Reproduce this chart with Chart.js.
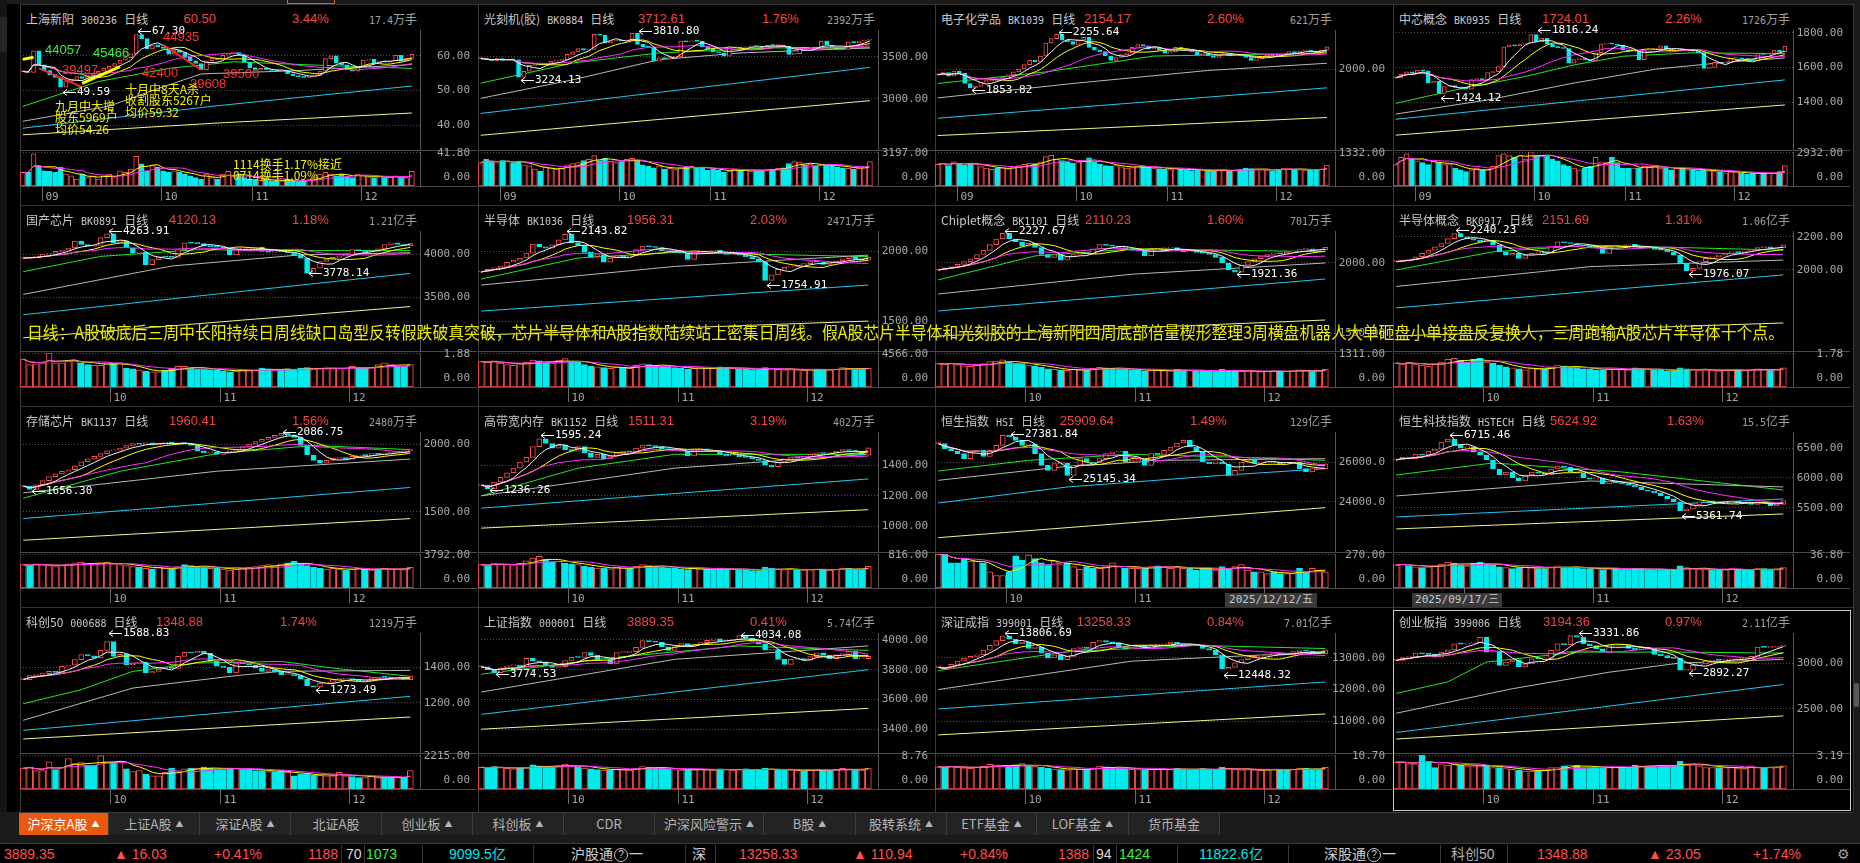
<!DOCTYPE html>
<html lang="zh-CN">
<head>
<meta charset="utf-8">
<title>多股同列 日线</title>
<script src="https://cdn.jsdelivr.net/npm/chart.js@4.4.1/dist/chart.umd.min.js"></script>
<style>
  html, body { margin: 0; padding: 0; background: #000; }
  body { width: 1860px; height: 863px; overflow: hidden; position: relative; font-family: "Noto Sans CJK SC", sans-serif; }
  .a { position: absolute; }
  .hl { position: absolute; height: 1px; background: #444; }
  .vl { position: absolute; width: 1px; background: #3a3a3a; }
  .head { position: absolute; height: 16px; line-height: 16px; font-size: 12px; color: #c8c8c8; white-space: nowrap; }
  .mono { font-family: "DejaVu Sans Mono", monospace; font-size: 10px; }
  .code { margin: 0 7px; }
  .num { position: absolute; height: 16px; line-height: 16px; font-family: "Liberation Sans", sans-serif; font-size: 13px; color: #f04646; white-space: nowrap; }
  .turn { position: absolute; height: 16px; line-height: 16px; font-size: 12px; color: #a0a0a0; white-space: nowrap; }
  .note { position: absolute; white-space: nowrap; line-height: 12px; height: 12px; }
  .tab { position: absolute; top: 813px; height: 22px; line-height: 22px; text-align: center; font-size: 13px; color: #b4b4b4; background: #232323; border-right: 1px solid #3c3c3c; box-sizing: border-box; white-space: nowrap; }
  .tab small { font-size: 8px; margin-left: 4px; vertical-align: 2px; }
  .st { position: absolute; top: 845px; height: 18px; line-height: 18px; font-family: "Liberation Sans", sans-serif; font-size: 14px; white-space: nowrap; }
  .q { display: inline-block; width: 12px; height: 12px; line-height: 12px; border: 1px solid #c8c8c8; border-radius: 7px; font-size: 10px; text-align: center; margin: 0 1px; vertical-align: 1px; }
  .datebox { position: absolute; top: 593px; height: 14px; line-height: 14px; background: #3a3a3a; color: #c8c8c8; font-family: "DejaVu Sans Mono", monospace; font-size: 11px; text-align: center; }
  #overlay { position: absolute; left: 27px; top: 321px; height: 22px; line-height: 22px; font-size: 17px; color: #ecec00; white-space: nowrap; transform-origin: 0 50%; text-shadow: 0 0 1px #000; }
</style>
</head>
<body>
<div id="overlay">日线：A股破底后三周中长阳持续日周线缺口岛型反转假跌破真突破，芯片半导体和A股指数陆续站上密集日周线。假A股芯片半导体和光刻胶的上海新阳四周底部倍量楔形整理3周横盘机器人大单砸盘小单接盘反复换人，三周跑输A股芯片半导体十个点。</div>
<script>
// ---------- header values ----------
const headerNames = ['上海新阳', '光刻机(胶)', '电子化学品', '中芯概念', '国产芯片', '半导体', 'Chiplet概念', '半导体概念',
  '存储芯片', '高带宽内存', '恒生指数', '恒生科技指数', '科创50', '上证指数', '深证成指', '创业板指'];
const headerCodes = ['300236', 'BK0884', 'BK1039', 'BK0935', 'BK0891', 'BK1036', 'BK1101', 'BK0917',
  'BK1137', 'BK1152', 'HSI', 'HSTECH', '000688', '000001', '399001', '399006'];
const headerLast = ['60.50', '3712.61', '2154.17', '1724.01', '4120.13', '1956.31', '2110.23', '2151.69',
  '1960.41', '1511.31', '25909.64', '5624.92', '1348.88', '3889.35', '13258.33', '3194.36'];
const headerPct = ['3.44%', '1.76%', '2.60%', '2.26%', '1.18%', '2.03%', '1.60%', '1.31%',
  '1.56%', '3.19%', '1.49%', '1.63%', '1.74%', '0.41%', '0.84%', '0.97%'];
const headerTurnover = ['17.4万手', '2392万手', '621万手', '1726万手', '1.21亿手', '2471万手', '701万手', '1.06亿手',
  '2480万手', '402万手', '129亿手', '15.5亿手', '1219万手', '5.74亿手', '7.01亿手', '2.11亿手'];

// ---------- month ticks (index of first trading day) ----------
const monthStartsRow1 = [4, 26, 43, 63];
const monthNamesRow1 = ['09', '10', '11', '12'];
const monthStartsA = [14, 31, 51];
const monthStartsHK = [11, 31, 51];
const monthNames = ['10', '11', '12'];

// ---------- 上海新阳 ----------
const shxyClose = [55.5, 55.2, 61.5, 57.4, 55.8, 54.6, 53.8, 51.0, 52.6, 53.2,
  54.0, 53.5, 54.3, 55.0, 55.6, 56.4, 57.0, 57.8, 58.8, 59.5,
  60.6, 66.2, 65.0, 62.0, 63.2, 62.6, 62.2, 60.5, 61.8, 61.0,
  59.6, 58.6, 57.8, 56.0, 58.6, 59.4, 59.0, 60.2, 60.6, 61.0,
  60.4, 58.2, 56.6, 55.9, 56.4, 56.0, 55.8, 55.6, 55.9, 54.8,
  54.2, 54.0, 53.8, 54.2, 54.4, 55.6, 59.2, 60.0, 58.0, 57.4,
  56.0, 55.6, 56.6, 58.8, 59.0, 58.0, 58.4, 58.2, 58.6, 60.2,
  58.5, 59.3, 60.5];
const shxyVol = [16.7, 16.7, 39.7, 25.1, 18.8, 18, 16.7, 23, 14.6, 12.5,
  8.4, 14.6, 10.5, 12.5, 8.4, 12.5, 14.6, 10.5, 18.8, 16.7,
  20.9, 36.4, 27.2, 18.8, 25.1, 23, 18.8, 16.7, 18.8, 16.7,
  14.6, 12.5, 10.5, 8.4, 14.6, 10.5, 8.4, 14.6, 18, 12.5,
  14.6, 10.5, 8.4, 8.4, 7.1, 8.4, 6.3, 6.3, 6.3, 6.3,
  7.1, 5.4, 6.3, 8.4, 11.3, 14.6, 16.7, 14.6, 12.5, 14.6,
  11.3, 10.5, 14.6, 12.5, 11.3, 10.5, 11.3, 10.5, 11.3, 12.5,
  10.5, 10.5, 18];
const shxyGreen = [[0, 45.4], [14, 52.6], [27, 56.4], [39, 58.3], [55, 57.3], [72, 56.4]];
const shxyGray = [[0, 41.1], [16, 45.5], [24, 50.0], [33, 54.8], [50, 55.7], [72, 57.5]];
const shxyCyan = [[0, 39.1], [36, 45.6], [72, 51.3]];
const shxyPale = [[0, 37.2], [36, 40.6], [72, 43.5]];
const shxyMarks = [[21, 67.30], [7, 49.59]];
const shxyRedA = [[3, 56.4], [11, 51.0]];
const shxyRedB = [[26, 63.2], [33, 56.0]];
const shxyYellowA = [[0, 59.0], [2, 59.6]];
const shxyYellowB = [[11, 52.1], [18, 56.9]];

// ---------- 光刻机(胶) ----------
const gkjClose = [3480, 3470, 3455, 3480, 3460, 3470, 3465, 3260, 3330, 3400,
  3410, 3405, 3420, 3450, 3460, 3465, 3530, 3560, 3600, 3580,
  3590, 3770, 3760, 3670, 3690, 3700, 3690, 3695, 3780, 3650,
  3620, 3615, 3450, 3490, 3480, 3495, 3500, 3690, 3680, 3690,
  3685, 3620, 3600, 3560, 3550, 3510, 3610, 3615, 3605, 3620,
  3630, 3625, 3615, 3640, 3635, 3640, 3630, 3530, 3540, 3610,
  3605, 3615, 3600, 3690, 3640, 3620, 3600, 3590, 3680, 3670,
  3690, 3700, 3712.61];
const gkjVol = [2200, 2500, 2300, 2200, 2400, 2300, 2200, 2350, 2000, 1900,
  1600, 1400, 1800, 1700, 1600, 1650, 2000, 2100, 2200, 2400,
  2500, 2850, 2400, 2600, 2300, 2200, 2300, 2500, 2600, 2400,
  2000, 1850, 1700, 1900, 1600, 1650, 1600, 1700, 1800, 1850,
  1750, 1700, 1500, 1600, 1500, 1300, 1400, 1600, 1500, 1550,
  1400, 1450, 1500, 1550, 1600, 1650, 1700, 2100, 2300, 2250,
  2000, 2050, 1900, 1950, 2000, 1950, 1800, 1700, 1650, 1600,
  1700, 1800, 2300];
const gkjGreen = [[0, 3188], [17, 3428], [33, 3548], [54, 3608], [72, 3608]];
const gkjGray = [[0, 3008], [17, 3228], [33, 3468], [48, 3548], [72, 3608]];
const gkjCyan = [[0, 2828], [72, 3376]];
const gkjPale = [[0, 2568], [72, 2980]];
const gkjMarks = [[29, 3810.80], [7, 3224.13]];

// ---------- 电子化学品 ----------
const dzhxClose = [1960, 1975, 1950, 1985, 1970, 1900, 1870, 1880, 1910, 1920,
  1930, 1925, 1945, 1960, 1980, 2000, 2030, 2060, 2050, 2090,
  2180, 2210, 2240, 2200, 2190, 2170, 2200, 2220, 2150, 2130,
  2120, 2090, 2060, 2080, 2100, 2110, 2150, 2170, 2160, 2140,
  2150, 2130, 2110, 2120, 2150, 2140, 2130, 2120, 2100, 2110,
  2090, 2080, 2100, 2110, 2095, 2100, 2090, 2080, 2060, 2070,
  2085, 2100, 2095, 2090, 2110, 2120, 2110, 2125, 2130, 2120,
  2115, 2130, 2154.17];
const dzhxVol = [850, 900, 800, 950, 880, 820, 900, 860, 760, 700,
  650, 700, 720, 680, 750, 800, 850, 900, 880, 950,
  1150, 1200, 1050, 1000, 950, 900, 950, 1000, 1100, 950,
  850, 800, 780, 800, 750, 700, 720, 760, 780, 740,
  700, 680, 650, 640, 700, 660, 620, 600, 640, 630,
  600, 580, 620, 640, 600, 620, 640, 700, 680, 660,
  640, 620, 600, 650, 700, 680, 660, 640, 620, 650,
  640, 660, 820];
const dzhxGreen = [[0, 1900], [20, 1980], [40, 2090], [72, 2110]];
const dzhxGray = [[0, 1800], [25, 1900], [50, 1990], [72, 2040]];
const dzhxCyan = [[0, 1660], [72, 1870]];
const dzhxPale = [[0, 1540], [72, 1665]];
const dzhxMarks = [[22, 2255.64], [6, 1853.82]];

// ---------- 中芯概念 ----------
const zxgnClose = [1540, 1560, 1575, 1567, 1585, 1580, 1510, 1520, 1450, 1490,
  1495, 1485, 1480, 1475, 1530, 1535, 1530, 1570, 1575, 1605,
  1720, 1730, 1725, 1735, 1740, 1790, 1750, 1770, 1735, 1720,
  1715, 1710, 1625, 1645, 1650, 1645, 1640, 1685, 1735, 1740,
  1735, 1730, 1700, 1690, 1695, 1645, 1700, 1705, 1710, 1725,
  1705, 1700, 1705, 1700, 1700, 1695, 1685, 1595, 1600, 1630,
  1625, 1630, 1655, 1655, 1650, 1645, 1640, 1680, 1675, 1680,
  1700, 1690, 1724.01];
const zxgnVol = [1854, 2472, 2781, 2318, 2163, 2009, 1854, 2163, 2009, 1854,
  1854, 1545, 1391, 1236, 1391, 1545, 1391, 1391, 1700, 2627,
  2781, 2627, 2472, 2627, 2318, 2936, 2627, 2627, 2688, 2318,
  2163, 1854, 1700, 1545, 1391, 1545, 1700, 2472, 2009, 2009,
  2472, 2009, 1545, 1545, 1545, 1545, 1700, 1700, 1700, 1545,
  1545, 1391, 1545, 1545, 1391, 1391, 1329, 1391, 1329, 1236,
  1236, 1143, 1236, 1236, 1082, 1020, 1082, 1082, 1143, 1082,
  1143, 1236, 1761];
const zxgnGreen = [[0, 1392], [11, 1470], [24, 1548], [33, 1615], [42, 1665], [55, 1685], [72, 1680]];
const zxgnGray = [[0, 1330], [17, 1412], [33, 1510], [48, 1590], [61, 1630], [72, 1655]];
const zxgnCyan = [[0, 1300], [72, 1528]];
const zxgnPale = [[0, 1208], [72, 1383]];
const zxgnMarks = [[26, 1816.24], [8, 1424.12]];

// ---------- 国产芯片 ----------
const gcxpClose = [3953, 3960, 3965, 4000, 4010, 4030, 4045, 4070, 4150, 4110,
  4090, 4100, 4190, 4235, 4130, 4150, 4070, 4010, 4020, 3875,
  3935, 3970, 3965, 3960, 4050, 4130, 4125, 4120, 4090, 4085,
  4080, 4070, 3990, 4060, 4062, 4065, 4080, 4030, 4020, 4035,
  4025, 4015, 3990, 3953, 3775, 3835, 3913, 3940, 3960, 3975,
  3990, 4050, 4040, 4025, 4030, 4060, 4110, 4130, 4110, 4095,
  4120.13];
const gcxpVol = [1.54, 1.24, 1.28, 1.34, 1.88, 1.34, 1.34, 1.44, 1.48, 1.34,
  1.24, 1.2, 1.2, 1.34, 1.34, 1.34, 1.04, 1.0, 0.94, 0.88,
  0.84, 0.84, 0.94, 1.04, 1.14, 1.14, 1.04, 1.0, 1.0, 0.94,
  0.94, 0.9, 0.84, 0.88, 0.94, 0.94, 0.94, 1.04, 1.0, 0.94,
  0.94, 1.0, 0.94, 1.04, 1.08, 1.0, 1.04, 1.04, 1.04, 1.04,
  1.04, 1.14, 1.04, 1.04, 1.08, 1.24, 1.34, 1.24, 1.14, 1.14,
  1.24];
const gcxpGreen = [[0, 3795], [12, 3972], [27, 4050], [43, 4040], [60, 4040]];
const gcxpGray = [[0, 3531], [17, 3775], [23, 3860], [43, 3990], [60, 4015]];
const gcxpCyan = [[0, 3295], [60, 3775]];
const gcxpPale = [[0, 3027], [60, 3390]];
const gcxpMarks = [[13, 4263.91], [44, 3778.14]];

// ---------- 半导体 ----------
const bdtClose = [1850, 1870, 1880, 1890, 1920, 1935, 1950, 1985, 2050, 2030,
  2020, 2045, 2080, 2120, 2060, 2040, 1990, 1960, 1975, 1920,
  1950, 1965, 1960, 1965, 2010, 2035, 2030, 2025, 2000, 1995,
  1990, 1985, 1940, 1990, 1995, 2000, 2005, 1985, 1975, 1980,
  1970, 1960, 1945, 1920, 1790, 1830, 1870, 1885, 1890, 1900,
  1910, 1925, 1920, 1905, 1915, 1930, 1945, 1960, 1940, 1935,
  1956.31];
const bdtVol = [3400, 3300, 3500, 3200, 3000, 2900, 3100, 3300, 3600, 3500,
  3300, 3200, 3600, 3800, 3400, 3300, 3000, 2800, 2700, 2600,
  2500, 2700, 2600, 2500, 2900, 3100, 3000, 2900, 2800, 2700,
  2600, 2500, 2400, 2500, 2600, 2550, 2500, 2700, 2600, 2500,
  2450, 2400, 2350, 2300, 2600, 2500, 2400, 2300, 2350, 2300,
  2250, 2300, 2400, 2350, 2300, 2400, 2600, 2550, 2450, 2400,
  2500];
const bdtGreen = [[0, 1800], [15, 1950], [30, 1990], [60, 1960]];
const bdtGray = [[0, 1757], [30, 1890], [60, 1971]];
const bdtCyan = [[0, 1571], [60, 1757]];
const bdtPale = [[0, 1400], [60, 1500]];
const bdtMarks = [[13, 2143.82], [44, 1754.91]];

// ---------- Chiplet概念 ----------
const chipletClose = [1950, 1965, 1975, 1990, 2010, 2030, 2060, 2090, 2130, 2170,
  2210, 2170, 2150, 2120, 2140, 2110, 2060, 2040, 2060, 2020,
  2045, 2060, 2070, 2065, 2100, 2130, 2125, 2120, 2110, 2100,
  2090, 2085, 2050, 2095, 2100, 2105, 2110, 2090, 2080, 2085,
  2075, 2070, 2060, 2040, 2000, 1950, 1935, 1985, 2010, 2030,
  2045, 2060, 2070, 2065, 2075, 2085, 2095, 2100, 2090, 2095,
  2110.23];
const chipletVol = [900, 880, 920, 860, 820, 800, 850, 900, 980, 1000,
  1050, 950, 900, 880, 850, 820, 760, 700, 680, 660,
  640, 680, 660, 650, 720, 760, 740, 720, 700, 680,
  660, 640, 620, 650, 640, 630, 620, 680, 660, 640,
  630, 620, 600, 590, 680, 640, 620, 600, 610, 600,
  590, 600, 620, 610, 600, 620, 660, 640, 620, 610,
  680];
const chipletGreen = [[0, 1880], [15, 2050], [30, 2100], [60, 2080]];
const chipletGray = [[0, 1780], [30, 1920], [60, 2000]];
const chipletCyan = [[0, 1659], [60, 1886]];
const chipletPale = [[0, 1482], [60, 1595]];
const chipletMarks = [[10, 2227.67], [46, 1921.36]];

// ---------- 半导体概念 ----------
const bdtgnClose = [2050, 2060, 2065, 2080, 2100, 2120, 2140, 2160, 2190, 2220,
  2200, 2190, 2180, 2170, 2180, 2150, 2110, 2090, 2100, 2070,
  2090, 2100, 2105, 2100, 2140, 2170, 2165, 2160, 2150, 2145,
  2140, 2135, 2100, 2140, 2145, 2150, 2155, 2140, 2130, 2135,
  2125, 2120, 2110, 2090, 2040, 1995, 2010, 2050, 2070, 2080,
  2090, 2100, 2110, 2105, 2115, 2125, 2135, 2140, 2130, 2135,
  2151.69];
const bdtgnVol = [1.25, 1.2, 1.3, 1.2, 1.15, 1.1, 1.2, 1.3, 1.45, 1.5,
  1.4, 1.3, 1.45, 1.5, 1.3, 1.25, 1.15, 1.05, 1.0, 0.95,
  0.9, 1.0, 0.95, 0.95, 1.05, 1.15, 1.1, 1.05, 1.0, 0.95,
  0.95, 0.9, 0.9, 0.95, 0.95, 0.92, 0.9, 1.0, 0.95, 0.92,
  0.9, 0.88, 0.85, 0.85, 1.0, 0.95, 0.9, 0.88, 0.9, 0.88,
  0.85, 0.88, 0.9, 0.88, 0.86, 0.9, 0.95, 0.93, 0.9, 0.9,
  1.0];
const bdtgnGreen = [[0, 2000], [15, 2110], [30, 2150], [60, 2120]];
const bdtgnGray = [[0, 1900], [30, 2020], [60, 2060]];
const bdtgnCyan = [[0, 1770], [60, 1970]];
const bdtgnPale = [[0, 1600], [60, 1679]];
const bdtgnMarks = [[9, 2240.23], [45, 1976.07]];

// ---------- 存储芯片 ----------
const ccxpClose = [1690, 1665, 1700, 1730, 1760, 1780, 1800, 1811,
  1840, 1870, 1891, 1910, 1930, 1950, 1956, 1970,
  1990, 2005, 2000, 2010, 1995, 2007, 2015, 2000, 2010, 2005, 1990,
  1950, 1935, 1940, 1925, 1935, 1950, 1960,
  1980, 2000, 2020, 2035, 2050, 2065, 2080, 2070,
  2050, 1990, 1920, 1880, 1860,
  1880, 1895, 1900, 1890, 1910, 1920, 1915, 1930, 1925, 1935, 1940, 1945, 1950, 1960.41];
const ccxpVol = [2600, 2500, 2700, 2600, 2500, 2400, 2500, 2700, 2800, 2900,
  2700, 2600, 2800, 2900, 2700, 2600, 2500, 2400, 2300, 2200,
  2100, 2300, 2200, 2100, 2400, 2600, 2500, 2400, 2300, 2200,
  2200, 2100, 2000, 2100, 2200, 2300, 2400, 2500, 2600, 2500,
  2700, 2800, 3000, 2700, 2500, 2300, 2200, 2100, 2200, 2100,
  2000, 2100, 2200, 2100, 2000, 2100, 2200, 2150, 2100, 2050,
  2300];
const ccxpGreen = [[0, 1600], [15, 1800], [30, 1930], [45, 1990], [60, 1960]];
const ccxpGray = [[0, 1640], [30, 1800], [60, 1890]];
const ccxpCyan = [[0, 1450], [60, 1680]];
const ccxpPale = [[0, 1290], [60, 1450]];
const ccxpMarks = [[40, 2086.75], [1, 1656.30]];

// ---------- 高带宽内存 ----------
const hbmClose = [1270, 1245, 1290, 1320, 1350, 1380, 1420, 1450, 1520, 1570,
  1540, 1510, 1530, 1500, 1490, 1520, 1480, 1450, 1470, 1440,
  1460, 1480, 1490, 1485, 1510, 1530, 1525, 1520, 1505, 1500,
  1495, 1490, 1460, 1500, 1505, 1495, 1490, 1470, 1460, 1465,
  1455, 1450, 1440, 1430, 1400, 1390, 1420, 1440, 1450, 1445,
  1455, 1470, 1480, 1475, 1480, 1490, 1500, 1495, 1485, 1465,
  1511.31];
const hbmVol = [560, 540, 600, 580, 560, 540, 600, 650, 720, 760,
  680, 620, 640, 600, 580, 560, 520, 500, 480, 470,
  460, 500, 480, 470, 520, 560, 540, 520, 500, 480,
  470, 460, 440, 470, 460, 450, 440, 480, 460, 450,
  440, 430, 420, 410, 500, 470, 450, 440, 450, 440,
  430, 440, 450, 440, 430, 450, 480, 470, 450, 440,
  520];
const hbmGreen = [[0, 1200], [15, 1380], [30, 1470], [60, 1470]];
const hbmGray = [[0, 1200], [30, 1380], [60, 1470]];
const hbmCyan = [[0, 1120], [60, 1310]];
const hbmPale = [[0, 990], [60, 1110]];
const hbmMarks = [[9, 1595.24], [1, 1236.26]];

// ---------- 恒生指数 ----------
const hsiClose = [26917, 26667, 26550, 26417, 26167, 26500, 26580, 26283, 26583, 26833,
  27333, 27250, 27083, 26833, 26900, 26417, 25833, 25583, 25917, 25950,
  25333, 25833, 26167, 26000, 25950, 26167, 26417, 26500, 26550, 26000,
  26083, 26117, 25833, 26417, 26380, 26583, 26750, 26950, 27083, 26750,
  26500, 26000, 25917, 26000, 25900, 25333, 25583, 26000, 26083, 25950,
  26000, 26033, 26000, 25917, 25917, 26000, 25667, 25500, 25667, 25667,
  25909.64];
const hsiVol = [270, 270, 199, 199, 233, 213, 213, 199, 128, 99,
  99, 128, 256, 222, 261, 233, 199, 185, 213, 185,
  199, 170, 148, 170, 156, 156, 170, 199, 170, 156,
  156, 156, 156, 170, 176, 170, 156, 170, 156, 156,
  142, 156, 156, 142, 170, 148, 170, 185, 142, 128,
  128, 114, 128, 114, 114, 114, 156, 128, 156, 142,
  128];
const hsiGreen = [[0, 25550], [14, 26083], [30, 26383], [45, 26250], [60, 26083]];
const hsiGray = [[0, 25083], [19, 25750], [35, 26083], [60, 26167]];
const hsiCyan = [[0, 23950], [20, 24750], [44, 25333], [60, 25667]];
const hsiPale = [[0, 22217], [60, 23717]];
const hsiMarks = [[11, 27381.84], [20, 25145.34]];

// ---------- 恒生科技指数 ----------
const hstechClose = [6300, 6350, 6320, 6400, 6380, 6450, 6480, 6600, 6650, 6550,
  6500, 6520, 6430, 6380, 6300, 6150, 6050, 6100, 6000, 5950,
  6050, 6100, 6080, 6060, 6150, 6200, 6180, 6100, 6080, 6000,
  5980, 6000, 5900, 5950, 5920, 5900, 5880, 5850, 5800, 5780,
  5750, 5700, 5650, 5600, 5450, 5480, 5550, 5600, 5620, 5590,
  5580, 5600, 5610, 5590, 5570, 5560, 5600, 5580, 5540, 5560,
  5624.92];
const hstechVol = [25, 26, 24, 23, 22, 23, 24, 26, 28, 27,
  25, 24, 27, 28, 26, 25, 23, 22, 21, 22,
  23, 22, 21, 21, 23, 24, 23, 22, 22, 21,
  21, 21, 20, 21, 21, 20, 20, 21, 21, 20,
  20, 20, 19, 19, 24, 22, 21, 20, 20, 20,
  19, 20, 21, 20, 19, 20, 21, 21, 20, 20,
  22];
const hstechGreen = [[0, 6050], [15, 6250], [35, 6100], [60, 5800]];
const hstechGray = [[0, 5700], [30, 5950], [60, 5850]];
const hstechCyan = [[0, 5350], [60, 5650]];
const hstechPale = [[0, 5150], [60, 5400]];
const hstechMarks = [[8, 6715.46], [44, 5361.74]];

// ---------- 科创50 ----------
const kc50Close = [1330, 1352, 1355, 1363, 1376, 1370, 1404, 1410, 1441, 1469,
  1462, 1450, 1492, 1542, 1459, 1470, 1413, 1422, 1428, 1367,
  1375, 1389, 1395, 1392, 1459, 1481, 1478, 1487, 1476, 1431,
  1404, 1398, 1367, 1422, 1418, 1412, 1394, 1376, 1385, 1372,
  1357, 1358, 1352, 1333, 1296, 1289, 1311, 1315, 1330, 1332,
  1336, 1330, 1320, 1322, 1335, 1344, 1342, 1338, 1344, 1330,
  1348.88];
const kc50Vol = [1356, 1424, 1198, 1198, 1763, 1266, 1424, 1989, 1650, 1718,
  1537, 1537, 2170, 1763, 1763, 1808, 1311, 1130, 1198, 972,
  859, 859, 1085, 1356, 1130, 1311, 1356, 1356, 1424, 1356,
  1311, 1266, 1356, 1356, 1266, 1266, 1198, 1198, 1130, 1130,
  1198, 1085, 859, 972, 972, 904, 904, 859, 859, 1085,
  859, 814, 746, 746, 859, 746, 746, 746, 746, 746,
  1198];
const kc50Green = [[0, 1196], [9, 1274], [17, 1376], [27, 1422], [40, 1431], [48, 1394], [60, 1348]];
const kc50Gray = [[0, 1104], [17, 1283], [33, 1352], [40, 1376], [60, 1381]];
const kc50Cyan = [[0, 1048], [60, 1237]];
const kc50Pale = [[0, 1000], [60, 1122]];
const kc50Marks = [[13, 1588.83], [45, 1273.49]];

// ---------- 上证指数 ----------
const szzsClose = [3820, 3800, 3780, 3812, 3826, 3831, 3821, 3876, 3860, 3853,
  3828, 3815, 3821, 3862, 3883, 3882, 3916, 3897, 3865, 3869,
  3839, 3916, 3917, 3922, 3950, 3996, 3988, 3986, 3954, 3930,
  3954, 3976, 3960, 3969, 3982, 3997, 4007, 3991, 3996, 4002,
  4029, 4011, 3990, 3972, 3931, 3935, 3870, 3836, 3870, 3875,
  3864, 3888, 3914, 3897, 3875, 3900, 3902, 3924, 3873, 3874,
  3889.35];
const szzsVol = [5.6, 5.4, 5.8, 5.5, 5.3, 5.2, 5.4, 5.6, 6.2, 6.0,
  5.8, 5.6, 6.0, 6.4, 6.0, 5.8, 5.4, 5.2, 5.0, 4.9,
  4.8, 5.1, 5.0, 4.9, 5.4, 5.8, 5.6, 5.5, 5.3, 5.1,
  5.0, 4.9, 4.8, 5.0, 5.1, 5.0, 4.9, 5.2, 5.0, 4.9,
  5.0, 5.2, 4.9, 4.8, 5.4, 5.2, 5.0, 4.8, 4.9, 4.8,
  4.7, 4.8, 5.0, 4.9, 4.8, 5.0, 5.3, 5.2, 5.0, 4.9,
  5.4];
const szzsGreen = [[0, 3770], [20, 3880], [40, 3960], [60, 3930]];
const szzsGray = [[0, 3650], [30, 3870], [60, 3960]];
const szzsCyan = [[0, 3500], [60, 3800]];
const szzsPale = [[0, 3400], [60, 3540]];
const szzsMarks = [[40, 4034.08], [2, 3774.53]];

// ---------- 深证成指 ----------
const szczClose = [12700, 12650, 12800, 12900, 13000, 13050, 13100, 13250, 13400, 13550,
  13700, 13600, 13450, 13500, 13300, 13350, 13150, 13000, 13100, 12950,
  13050, 13300, 13350, 13300, 13500, 13550, 13500, 13480, 13350, 13280,
  13350, 13400, 13300, 13400, 13420, 13450, 13500, 13450, 13420, 13400,
  13380, 13300, 13250, 13100, 12650, 12700, 12850, 12950, 13000, 13050,
  13080, 13100, 13150, 13120, 13100, 13200, 13250, 13220, 13150, 13130,
  13258.33];
const szczVol = [7.0, 6.8, 7.2, 6.9, 6.7, 6.5, 6.8, 7.1, 7.8, 7.6,
  7.3, 7.0, 7.6, 8.0, 7.5, 7.2, 6.8, 6.5, 6.3, 6.1,
  6.0, 6.4, 6.2, 6.1, 6.7, 7.2, 7.0, 6.8, 6.6, 6.4,
  6.2, 6.1, 6.0, 6.2, 6.3, 6.2, 6.1, 6.5, 6.3, 6.1,
  6.2, 6.4, 6.1, 6.0, 6.8, 6.5, 6.3, 6.0, 6.1, 6.0,
  5.9, 6.0, 6.2, 6.1, 6.0, 6.2, 6.6, 6.5, 6.2, 6.1,
  6.8];
const szczGreen = [[0, 12600], [20, 13200], [40, 13400], [60, 13300]];
const szczGray = [[0, 12000], [30, 12900], [60, 13190]];
const szczCyan = [[0, 11383], [60, 12240]];
const szczPale = [[0, 10560], [60, 11225]];
const szczMarks = [[10, 13806.69], [44, 12448.32]];

// ---------- 创业板指 ----------
const cybzClose = [3029, 3058, 3060, 3108, 3100, 3095, 3065, 3119, 3144, 3209,
  3205, 3216, 3222, 3281, 3119, 3130, 2975, 3011, 3036, 2957,
  2990, 3047, 3045, 3050, 3137, 3209, 3200, 3299, 3281, 3209,
  3190, 3155, 3120, 3190, 3200, 3195, 3160, 3145, 3170, 3150,
  3094, 3080, 3058, 3050, 2921, 2921, 2975, 2990, 3022, 3030,
  3028, 3035, 3045, 3045, 3048, 3072, 3173, 3170, 3172, 3180,
  3194.36];
const cybzVol = [2.52, 2.52, 2.35, 2.35, 3.19, 2.52, 2.02, 2.35, 2.25, 2.35,
  2.25, 2.18, 2.18, 2.18, 2.18, 2.02, 2.02, 1.92, 1.85, 1.78,
  1.68, 1.68, 1.68, 1.78, 2.02, 2.02, 2.18, 2.25, 2.25, 2.02,
  2.02, 2.02, 2.02, 2.02, 2.02, 2.02, 2.02, 2.25, 2.18, 2.18,
  2.18, 2.18, 2.18, 2.18, 2.59, 2.35, 2.35, 2.18, 2.02, 2.02,
  2.02, 2.02, 2.02, 1.92, 1.92, 2.18, 2.02, 2.02, 2.02, 2.02,
  2.18];
const cybzGreen = [[0, 2669], [8, 2795], [14, 3011], [28, 3119], [44, 3119], [60, 3108]];
const cybzGray = [[0, 2453], [18, 2720], [33, 2900], [44, 3000], [60, 3040]];
const cybzCyan = [[0, 2244], [60, 2766]];
const cybzPale = [[0, 2172], [60, 2424]];
const cybzMarks = [[28, 3331.86], [45, 2892.27]];

// ---------- panel table (built from the arrays above) ----------
const row1 = { slots: 74, bar: 4, volBar: 5, months: monthStartsRow1, monthText: monthNamesRow1 };
const rowA = { slots: 62, bar: 5, volBar: 6, months: monthStartsA, monthText: monthNames };
const rowHK = { slots: 62, bar: 5, volBar: 6, months: monthStartsHK, monthText: monthNames };

const panels = [
  { ...row1, close: shxyClose, vol: shxyVol, green: shxyGreen, gray: shxyGray, cyan: shxyCyan, pale: shxyPale, marks: shxyMarks,
    yMin: 32.8, yMax: 67.5, yTicks: [60, 50, 40], volMax: 41.80, priceEnd: 196, pctLeft: 272,
    extra: [[shxyRedA, '#ff2424', 2], [shxyRedB, '#ff2424', 2], [shxyYellowA, '#ffff00', 3], [shxyYellowB, '#ffff00', 3]] },
  { ...row1, close: gkjClose, vol: gkjVol, green: gkjGreen, gray: gkjGray, cyan: gkjCyan, pale: gkjPale, marks: gkjMarks,
    yMin: 2393, yMax: 3821, yTicks: [3500, 3000], volMax: 3197, priceEnd: 207, pctLeft: 284 },
  { ...row1, close: dzhxClose, vol: dzhxVol, green: dzhxGreen, gray: dzhxGray, cyan: dzhxCyan, pale: dzhxPale, marks: dzhxMarks,
    yMin: 1440, yMax: 2270, yTicks: [2000], volMax: 1332, priceEnd: 196, pctLeft: 272 },
  { ...row1, close: zxgnClose, vol: zxgnVol, green: zxgnGreen, gray: zxgnGray, cyan: zxgnCyan, pale: zxgnPale, marks: zxgnMarks,
    yMin: 1122, yMax: 1817, yTicks: [1800, 1600, 1400], volMax: 2932, priceEnd: 196, pctLeft: 272 },
  { ...rowA, close: gcxpClose, vol: gcxpVol, green: gcxpGreen, gray: gcxpGray, cyan: gcxpCyan, pale: gcxpPale, marks: gcxpMarks,
    yMin: 2874, yMax: 4267, yTicks: [4000, 3500], volMax: 1.88, priceEnd: 196, pctLeft: 272 },
  { ...rowA, close: bdtClose, vol: bdtVol, green: bdtGreen, gray: bdtGray, cyan: bdtCyan, pale: bdtPale, marks: bdtMarks,
    yMin: 1286, yMax: 2143, yTicks: [2000, 1500], volMax: 4566, priceEnd: 196, pctLeft: 272 },
  { ...rowA, close: chipletClose, vol: chipletVol, green: chipletGreen, gray: chipletGray, cyan: chipletCyan, pale: chipletPale, marks: chipletMarks,
    yMin: 1375, yMax: 2227, yTicks: [2000, 1500], volMax: 1311, priceEnd: 196, pctLeft: 272 },
  { ...rowA, close: bdtgnClose, vol: bdtgnVol, green: bdtgnGreen, gray: bdtgnGray, cyan: bdtgnCyan, pale: bdtgnPale, marks: bdtgnMarks,
    yMin: 1509, yMax: 2236, yTicks: [2200, 2000], volMax: 1.78, priceEnd: 196, pctLeft: 272 },
  { ...rowA, close: ccxpClose, vol: ccxpVol, green: ccxpGreen, gray: ccxpGray, cyan: ccxpCyan, pale: ccxpPale, marks: ccxpMarks,
    yMin: 1203, yMax: 2090, yTicks: [2000, 1500], volMax: 3792, priceEnd: 196, pctLeft: 272 },
  { ...rowA, close: hbmClose, vol: hbmVol, green: hbmGreen, gray: hbmGray, cyan: hbmCyan, pale: hbmPale, marks: hbmMarks,
    yMin: 835, yMax: 1615, yTicks: [1400, 1200, 1000], volMax: 816, priceEnd: 196, pctLeft: 272 },
  { ...rowHK, close: hsiClose, vol: hsiVol, green: hsiGreen, gray: hsiGray, cyan: hsiCyan, pale: hsiPale, marks: hsiMarks,
    yMin: 21500, yMax: 27500, yTicks: [26000, 24000], dec: 1, volMax: 270, priceEnd: 179, pctLeft: 255 },
  { ...rowHK, close: hstechClose, vol: hstechVol, green: hstechGreen, gray: hstechGray, cyan: hstechCyan, pale: hstechPale, marks: hstechMarks,
    yMin: 4765, yMax: 6767, yTicks: [6500, 6000, 5500], volMax: 36.8, priceEnd: 204, pctLeft: 274 },
  { ...rowA, close: kc50Close, vol: kc50Vol, green: kc50Green, gray: kc50Gray, cyan: kc50Cyan, pale: kc50Pale, marks: kc50Marks,
    yMin: 922, yMax: 1589, yTicks: [1400, 1200], volMax: 2215, priceEnd: 183, pctLeft: 260 },
  { ...rowA, close: szzsClose, vol: szzsVol, green: szzsGreen, gray: szzsGray, cyan: szzsCyan, pale: szzsPale, marks: szzsMarks,
    yMin: 3240, yMax: 4047, yTicks: [4000, 3800, 3600, 3400], volMax: 8.76, priceEnd: 196, pctLeft: 272 },
  { ...rowA, close: szczClose, vol: szczVol, green: szczGreen, gray: szczGray, cyan: szczCyan, pale: szczPale, marks: szczMarks,
    yMin: 9986, yMax: 13793, yTicks: [13000, 12000, 11000], volMax: 10.70, priceEnd: 196, pctLeft: 272 },
  { ...rowA, close: cybzClose, vol: cybzVol, green: cybzGreen, gray: cybzGray, cyan: cybzCyan, pale: cybzPale, marks: cybzMarks,
    yMin: 2020, yMax: 3327, yTicks: [3000, 2500], volMax: 3.19, priceEnd: 197, pctLeft: 272 }
];

const RED = '#ff4f4f';
const CYAN = '#00ecec';
const AXIS_FONT = '11px "DejaVu Sans Mono"';
const cols = [20, 478, 935, 1393];
const rows = [0, 201, 402, 603];

function movingAvg(src, n) {
  return src.map((_, i) => {
    const from = Math.max(0, i - n + 1);
    let s = 0;
    for (let k = from; k <= i; k++) s += src[k];
    return s / (i - from + 1);
  });
}

function anchored(pairs, len) {
  const out = new Array(len).fill(null);
  pairs.forEach(([i, v]) => { out[i] = v; });
  return out;
}

function box(cls, css, html) {
  const d = document.createElement('div');
  d.className = cls;
  Object.assign(d.style, css);
  if (html !== undefined) d.innerHTML = html;
  document.body.appendChild(d);
  return d;
}

function canvasAt(left, top, w, h) {
  const c = document.createElement('canvas');
  c.width = w; c.height = h;
  c.style.cssText = `position:absolute;left:${left}px;top:${top}px;width:${w}px;height:${h}px`;
  document.body.appendChild(c);
  return c;
}

// text marks drawn through the chart scales: axis labels, month ticks, high/low arrows
const panelMarks = {
  id: 'panelMarks',
  afterDatasetsDraw(chart, args, o) {
    const { ctx, chartArea: a, scales: { x, y } } = chart;
    ctx.save();
    ctx.font = AXIS_FONT;
    ctx.fillStyle = '#a8a8a8';
    ctx.textAlign = 'right';
    ctx.textBaseline = 'middle';
    (o.yLabels || []).forEach(([v, txt, dy]) => {
      ctx.fillText(txt, a.right + 50, y.getPixelForValue(v) + (dy || 0));
    });
    if (o.months) {
      const w = (a.right - a.left) / o.slots;
      ctx.textAlign = 'left';
      ctx.strokeStyle = '#6a6a6a';
      ctx.lineWidth = 1;
      o.months.forEach((idx, k) => {
        const bx = Math.round(x.getPixelForValue(idx) - w / 2) + 0.5;
        ctx.beginPath();
        ctx.moveTo(bx, a.bottom);
        ctx.lineTo(bx, a.bottom + 15);
        ctx.stroke();
        ctx.fillText(o.monthText[k], bx + 3, a.bottom + 11);
      });
    }
    (o.arrows || []).forEach(([idx, val]) => {
      const px = Math.round(x.getPixelForValue(idx)) + 2;
      const py = Math.round(y.getPixelForValue(val)) + 0.5;
      ctx.strokeStyle = '#ffffff';
      ctx.fillStyle = '#ffffff';
      ctx.beginPath();
      ctx.moveTo(px + 13, py); ctx.lineTo(px, py);
      ctx.moveTo(px + 4, py - 3); ctx.lineTo(px, py); ctx.lineTo(px + 4, py + 3);
      ctx.stroke();
      ctx.textAlign = 'left';
      ctx.fillText(val.toFixed(2), px + 14, py);
    });
    ctx.restore();
  }
};

function lineSet(data, color, width, order) {
  return { type: 'line', data, borderColor: color, borderWidth: width || 1, pointRadius: 0,
    spanGaps: true, tension: 0, order: order || 1 };
}

function baseOptions(p, padTop, padBottom, marks, yMin, yMax, gridTicks) {
  return {
    animation: false, responsive: false, events: [], devicePixelRatio: 1,
    layout: { padding: { top: padTop, bottom: padBottom, left: 0, right: 0 } },
    plugins: { legend: { display: false }, tooltip: { enabled: false }, panelMarks: marks },
    scales: {
      x: { offset: true, display: false },
      y: {
        position: 'right', min: yMin, max: yMax,
        afterBuildTicks: s => { s.ticks = gridTicks.map(v => ({ value: v })); },
        afterFit: s => { s.width = 50; s.paddingTop = 0; s.paddingBottom = 0; },
        ticks: { display: false },
        grid: { color: '#4e4e4e', drawTicks: false },
        border: { display: true, color: '#555', dash: [1, 2] }
      }
    }
  };
}

function buildPanel(p, k) {
  const L = cols[k % 4], T = rows[Math.floor(k / 4)];
  const n = p.close.length;
  const labels = Array.from({ length: p.slots }, (_, i) => String(i));
  const opens = p.close.map((c, i) => (i ? p.close[i - 1] : c));
  const up = p.close.map((c, i) => c >= opens[i]);

  // frame
  box('hl', { left: L + 'px', top: (T + 150) + 'px', width: '457px', background: '#4a4a4a' });
  box('hl', { left: (L + 400) + 'px', top: (T + 186) + 'px', width: '57px', background: '#4a4a4a' });

  // header
  box('head', { left: (L + 6) + 'px', top: (T + 11) + 'px' },
    `<span>${headerNames[k]}</span><span class="mono code">${headerCodes[k]}</span><span>日线</span>`);
  box('num', { right: (1860 - L - p.priceEnd) + 'px', top: (T + 11) + 'px' }, headerLast[k]);
  box('num', { left: (L + p.pctLeft) + 'px', top: (T + 11) + 'px' }, headerPct[k]);
  box('turn', { right: (1860 - L - 397) + 'px', top: (T + 11) + 'px' },
    headerTurnover[k].replace(/[\d.]+/, m => `<span class="mono">${m}</span>`));

  // price chart
  const dec = p.dec === undefined ? 2 : p.dec;
  const priceSets = [
    lineSet(anchored(p.pale, n), '#f2f28a', 1, 4),
    lineSet(anchored(p.cyan, n), '#1ec8f0', 1, 4),
    lineSet(anchored(p.gray, n), '#b8b8b8', 1, 4),
    lineSet(anchored(p.green, n), '#22e622', 1, 4),
    { type: 'bar', data: p.close.map((c, i) => [opens[i], c]), order: 3,
      backgroundColor: up.map(u => (u ? '#000' : CYAN)), borderColor: up.map(u => (u ? RED : CYAN)),
      borderWidth: 1, borderSkipped: false, barThickness: p.bar, minBarLength: 1 },
    lineSet(movingAvg(p.close, 20), '#ff2cff', 1, 2),
    lineSet(movingAvg(p.close, 10), '#ffff00', 1, 2),
    lineSet(movingAvg(p.close, 5), '#f2f2f2', 1, 1)
  ];
  (p.extra || []).forEach(([pairs, color, w]) => priceSets.unshift(lineSet(anchored(pairs, n), color, w, 0)));
  const priceMarks = {
    yLabels: p.yTicks.map(v => [v, v.toFixed(dec)]),
    arrows: p.marks
  };
  new Chart(canvasAt(L, T + 22, 450, 134), {
    type: 'bar',
    data: { labels, datasets: priceSets },
    options: baseOptions(p, 8, 6, priceMarks, p.yMin, p.yMax, p.yTicks),
    plugins: [panelMarks]
  });

  // volume chart
  const volOpts = baseOptions(p, 8, 0, {
    yLabels: [[p.volMax, p.volMax.toFixed(2), 1], [0, '0.00', -9]],
    months: p.months, monthText: p.monthText, slots: p.slots
  }, 0, p.volMax, [p.volMax]);
  volOpts.scales.x = {
    offset: true, display: true,
    afterFit: s => { s.height = 16; },
    ticks: { display: false },
    grid: { display: false },
    border: { display: true, color: '#4a4a4a' }
  };
  new Chart(canvasAt(L, T + 144, 450, 58), {
    type: 'bar',
    data: { labels, datasets: [
      lineSet(movingAvg(p.vol, 10), '#ff2cff', 1, 1),
      lineSet(movingAvg(p.vol, 5), '#ffff00', 1, 1),
      { type: 'bar', data: p.vol, order: 2,
        backgroundColor: up.map(u => (u ? '#000' : CYAN)), borderColor: up.map(u => (u ? RED : CYAN)),
        borderWidth: 1, borderSkipped: false, barThickness: p.volBar, minBarLength: 1 }
    ] },
    options: volOpts,
    plugins: [panelMarks]
  });
}

// ---------- static chrome ----------
box('a', { left: '0', top: '0', width: '1860px', height: '4px', background: '#1b1b1b' });
box('a', { left: '287px', top: '0', width: '46px', height: '3px', border: '1px solid #d2691e', borderTop: 'none' });
box('a', { left: '0', top: '0', width: '7px', height: '812px', background: '#151515' });
box('a', { left: '0', top: '17px', width: '7px', height: '35px', background: '#262626' });
box('a', { left: '1853px', top: '0', width: '7px', height: '812px', background: '#1b1b1b' });
box('a', { left: '1854px', top: '683px', width: '5px', height: '24px', background: '#5a5a5a', borderRadius: '2px' });
[4, 205, 406, 607].forEach(y => box('hl', { left: '20px', top: y + 'px', width: '1833px', background: '#333' }));
[20, 478, 935, 1393, 1853].forEach(x => box('vl', { left: x + 'px', top: '4px', height: '808px' }));

panels.forEach(buildPanel);

// selected panel frame
box('a', { left: '1393px', top: '610px', width: '458px', height: '201px', border: '1px solid #c8c8c8', boxSizing: 'border-box' });

// date tips on row 3
box('datebox', { left: '1225px', width: '92px' }, '2025/12/12/五');
box('datebox', { left: '1412px', width: '90px' }, '2025/09/17/三');

// 上海新阳 hand annotations
const notesNum = [['44057', 45, 49, '#3cf03c'], ['45466', 93, 52, '#3cf03c'], ['39497', 62, 69, '#ff3434'],
  ['44935', 163, 36, '#ff3434'], ['42400', 142, 72, '#ff3434'], ['39608', 190, 83, '#ff3434'], ['39500', 223, 73, '#ff3434']];
notesNum.forEach(([t, x, y, c]) => box('note', { left: x + 'px', top: (y - 7) + 'px', height: '14px', lineHeight: '14px',
  font: '13px "Liberation Sans"', color: c }, t));
const notesText = [['十月中8天A杀', 125, 89], ['收割股东5267户', 125, 100], ['均价59.32', 125, 112],
  ['九月中大增', 55, 106], ['股东5969户', 55, 117], ['均价54.26', 55, 129],
  ['1114换手1.17%接近', 233, 164], ['0714换手1.09%', 233, 175]];
notesText.forEach(([t, x, y]) => box('note', { left: x + 'px', top: (y - 6) + 'px', fontSize: '12px', color: '#f2f200' }, t));

// bottom tab bar
box('a', { left: '0', top: '812px', width: '1860px', height: '31px', background: '#1b1b1b' });
box('a', { left: '19px', top: '812px', width: '1834px', height: '1px', background: '#3a3a3a' });
const tabEdges = [19, 109, 200, 291, 382, 473, 564, 655, 764, 856, 947, 1037, 1129, 1220];
const tabNames = ['沪深京A股', '上证A股', '深证A股', '北证A股', '创业板', '科创板', 'CDR', '沪深风险警示', 'B股', '股转系统', 'ETF基金', 'LOF基金', '货币基金'];
const tabArrow = [1, 1, 1, 0, 1, 1, 0, 1, 1, 1, 1, 1, 0];
tabNames.forEach((t, i) => {
  const d = box('tab', { left: tabEdges[i] + 'px', width: (tabEdges[i + 1] - tabEdges[i]) + 'px' },
    t + (tabArrow[i] ? '<small>▲</small>' : ''));
  if (i === 0) { d.style.background = '#e8590c'; d.style.color = '#fff'; }
});
box('a', { left: '0', top: '843px', width: '1860px', height: '1px', background: '#3a3a3a' });

// status bar
const statusItems = [[4, '3889.35', RED], [114, '▲ 16.03', RED], [214, '+0.41%', RED], [308, '1188', RED],
  [346, '70', '#d8d8d8'], [366, '1073', '#3cf03c'], [449, '9099.5亿', '#00e6f0'],
  [571, '沪股通<span class="q">?</span>一', '#d0d0d0'], [692, '深', '#d0d0d0'],
  [739, '13258.33', RED], [853, '▲ 110.94', RED], [960, '+0.84%', RED], [1058, '1388', RED],
  [1096, '94', '#d8d8d8'], [1119, '1424', '#3cf03c'], [1199, '11822.6亿', '#00e6f0'],
  [1324, '深股通<span class="q">?</span>一', '#d0d0d0'], [1451, '科创50', '#b4b4b4'],
  [1537, '1348.88', RED], [1648, '▲ 23.05', RED], [1753, '+1.74%', RED], [1837, '⚙', '#a0a0a0']];
statusItems.forEach(([x, t, c]) => box('st', { left: x + 'px', color: c }, t));
[341, 364, 422, 533, 685, 715, 1093, 1116, 1177, 1288, 1440, 1507].forEach(x =>
  box('vl', { left: x + 'px', top: '845px', height: '18px', background: '#3a3a3a' }));

// fit the commentary line to its width in the reference
const ov = document.getElementById('overlay');
ov.style.zIndex = 5;
ov.style.transform = `scaleX(${1757 / ov.getBoundingClientRect().width})`;
</script>
</body>
</html>
